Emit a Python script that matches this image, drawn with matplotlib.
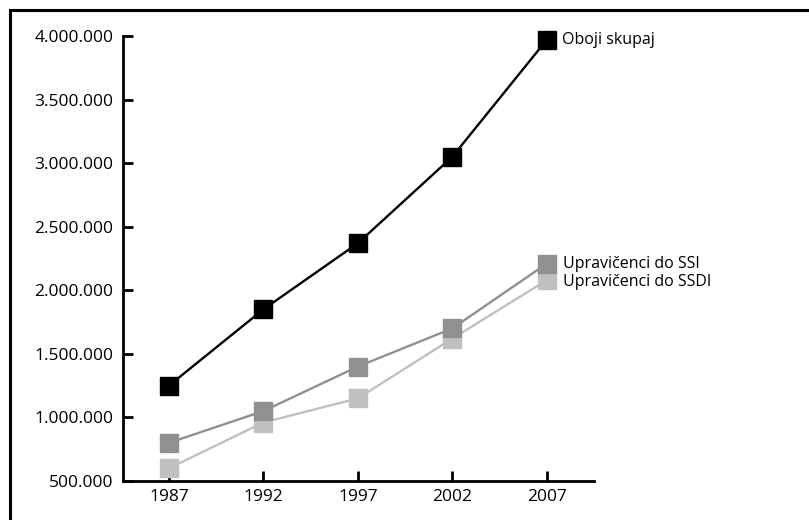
import matplotlib.pyplot as plt
from matplotlib.patches import Rectangle
from matplotlib.ticker import FuncFormatter

plt.rcParams['font.family'] = ['Open Sans', 'DejaVu Sans']

years = [1987, 1992, 1997, 2002, 2007]
oboji = [1250000, 1850000, 2370000, 3050000, 3970000]
ssi = [800000, 1050000, 1400000, 1700000, 2210000]
ssdi = [600000, 960000, 1150000, 1620000, 2080000]
labels = ['Oboji skupaj', 'Upravičenci do SSI', 'Upravičenci do SSDI']
yticks = [500000, 1000000, 1500000, 2000000, 2500000, 3000000, 3500000, 4000000]

fig = plt.figure(figsize=(8.09, 5.2), dpi=100)
ax = fig.add_axes([123/809, 1 - 481/520, (594 - 123)/809, (481 - 36)/520])

# frame round the whole chart
fig.patches.append(Rectangle((10/809, -0.1), 1.2, 1.1 - 10/520, transform=fig.transFigure,
                             fill=False, edgecolor='black', linewidth=2.2, clip_on=False))

ax.plot(years, ssdi, color='#c0c0c2', lw=1.7, marker='s', ms=12.5, zorder=2, clip_on=False)
ax.plot(years, ssi, color='#909092', lw=1.7, marker='s', ms=12.5, zorder=3, clip_on=False)
ax.plot(years, oboji, color='black', lw=1.7, marker='s', ms=12.5, zorder=4, clip_on=False)

ax.annotate(labels[0], xy=(years[-1], oboji[-1]), xytext=(11, 0), textcoords='offset points',
            va='center', fontsize=11.5)
ax.annotate(labels[1], xy=(years[-1], ssi[-1]), xytext=(12, 0), textcoords='offset points',
            va='center', fontsize=11.5)
ax.annotate(labels[2], xy=(years[-1], ssdi[-1]), xytext=(12, -1), textcoords='offset points',
            va='center', fontsize=11.5)

ax.set_xlim(1984.57, 2009.5)
ax.set_ylim(500000, 4000000)
ax.set_xticks(years)
ax.set_yticks(yticks)
ax.yaxis.set_major_formatter(FuncFormatter(lambda v, p: f'{int(v):,}'.replace(',', '.')))

for s in ['top', 'right']:
    ax.spines[s].set_visible(False)
for s in ['left', 'bottom']:
    ax.spines[s].set_linewidth(2)
ax.tick_params(direction='in', length=7, width=2, labelsize=12.5)
ax.tick_params(axis='y', pad=7)
ax.tick_params(axis='x', pad=6)

fig.savefig('out.png', dpi=100)
